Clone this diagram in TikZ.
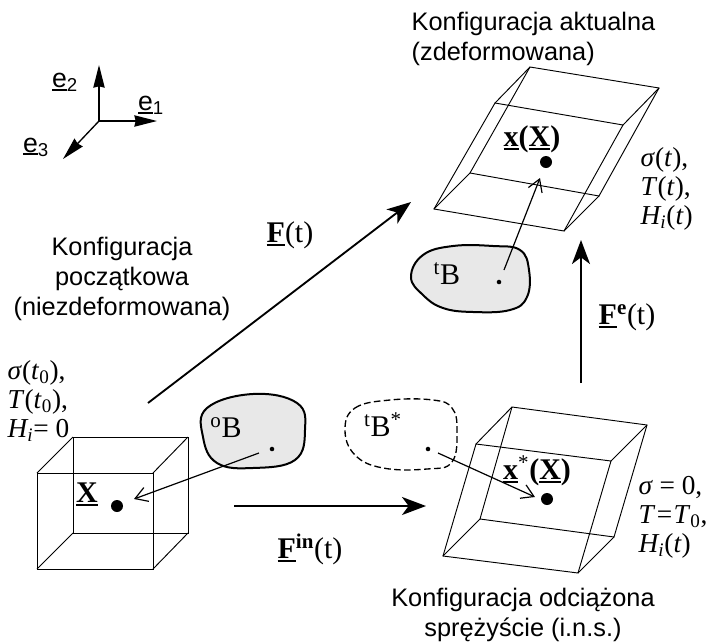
\documentclass[tikz,border=0pt]{standalone}
\usepackage{fontspec}
\setmainfont{Liberation Serif}
\setsansfont{Liberation Sans}
\usetikzlibrary{calc,arrows.meta}
\newcommand{\barred}[1]{\setbox0\hbox{#1}\leavevmode\rlap{\rule[-2.6pt]{\wd0}{1.5pt}}\box0}

\begin{document}
\begin{tikzpicture}[
  x=0.75pt, y=-0.75pt,
  >=Stealth,
  edge/.style={draw, line width=0.7pt},
  blob/.style={draw, line width=1.5pt, fill=gray!18},
  bigarrow/.style={-{Stealth[length=18pt,width=13.5pt,inset=5pt]}, line width=1.4pt},
  axisarrow/.style={-{Stealth[length=17pt,width=8.5pt,inset=1pt]}, line width=1pt},
  maparrow/.style={-{Straight Barb[length=9pt,width=11pt]}, line width=0.9pt},
  bigdot/.style={circle, fill=black, inner sep=0pt, minimum size=9pt},
  smalldot/.style={circle, fill=black, inner sep=0pt, minimum size=3.4pt},
  caption/.style={font=\sffamily\fontsize{19}{22.5}\selectfont, align=center},
  state/.style={font=\fontsize{20.5}{21.7}\selectfont, align=left, anchor=west},
  symb/.style={font=\fontsize{22.5}{24}\selectfont},
  axislabel/.style={font=\sffamily\fontsize{20}{22}\selectfont},
]
\useasboundingbox (0,0) rectangle (708,643);

% --- Prostopadlosciany: a = poczatkowa, b = odciazona, c = aktualna ---
\coordinate (a1) at (37,473);  \coordinate (a2) at (153,473);
\coordinate (a3) at (153,569); \coordinate (a4) at (37,569);
\coordinate (a5) at (73,437);  \coordinate (a6) at (188,437);
\coordinate (a7) at (188,533); \coordinate (a8) at (73,533);

\coordinate (b1) at (476,444); \coordinate (b2) at (611,461);
\coordinate (b3) at (578,573); \coordinate (b4) at (443,556);
\coordinate (b5) at (512,407); \coordinate (b6) at (647,425);
\coordinate (b7) at (614,537); \coordinate (b8) at (480,519);

\coordinate (c1) at (495,103); \coordinate (c2) at (623,125);
\coordinate (c3) at (564,231); \coordinate (c4) at (434,209);
\coordinate (c5) at (530,67);  \coordinate (c6) at (659,88);
\coordinate (c7) at (599,196); \coordinate (c8) at (470,173);

\foreach \c in {a,b,c} {
  \draw[edge] (\c1) -- (\c2) -- (\c3) -- (\c4) -- cycle;
  \draw[edge] (\c5) -- (\c6) -- (\c7) -- (\c8) -- cycle;
  \draw[edge] (\c1) -- (\c5) (\c2) -- (\c6) (\c3) -- (\c7) (\c4) -- (\c8);
}

% --- Obszary ciala ---
\draw[blob] plot[smooth cycle, tension=0.7] coordinates {
  (253,394) (297,403) (305,430) (295,460) (253,468) (217,463) (203,437) (207,408)};
\draw[blob] plot[smooth cycle, tension=0.7] coordinates {
  (411,277) (423,255) (453,246) (493,246) (520,250) (529,270) (527,297)
  (510,310) (473,312) (443,308) (423,295)};
\draw[line width=1pt, dash pattern=on 5pt off 2.5pt] plot[smooth cycle, tension=0.7] coordinates {
  (345,430) (355,408) (390,400) (433,400) (452,408) (457,430) (452,462)
  (427,469) (383,468) (355,455)};

% --- Punkty materialne ---
\node[bigdot] (dotX) at (117,506) {};
\node[bigdot] (dotXs) at (547,499) {};
\node[bigdot] (dotx) at (546,162) {};
\node[smalldot] (ptO) at (272,449) {};
\node[smalldot] (ptTs) at (428,449) {};
\node[smalldot] (ptT) at (499,282) {};

% --- Odwzorowania punktow ---
\coordinate (mapA) at (259,453); \coordinate (tipA) at (134,499);
\coordinate (mapB) at (438,453); \coordinate (tipB) at (535,497);
\coordinate (mapC) at (504,270); \coordinate (tipC) at (540,178);
\draw[maparrow] (mapA) -- (tipA);
\draw[maparrow] (mapB) -- (tipB);
\draw[maparrow] (mapC) -- (tipC);

% --- Gradienty deformacji ---
\coordinate (Fa) at (148,403);  \coordinate (Fb) at (411,202);
\coordinate (Fina) at (234,506); \coordinate (Finb) at (426,506);
\coordinate (Fea) at (581,383); \coordinate (Feb) at (581,240);
\draw[bigarrow] (Fa) -- (Fb);
\draw[bigarrow] (Fina) -- (Finb);
\draw[bigarrow] (Fea) -- (Feb);

\node[symb] (lblF) at (290,235) {\barred{\textbf{F}}(t)};
\node[symb] (lblFin) at (310,549) {\barred{\textbf{F}}\textbf{\textsuperscript{in}}(t)};
\node[symb] (lblFe) at (627,317) {\barred{\textbf{F}}\textbf{\textsuperscript{e}}(t)};

% --- Opisy punktow i obszarow ---
\node[symb] (lblX) at (87,494) {\barred{\textbf{X}}};
\node[symb] (lblXs) at (537,471) {\barred{\textbf{x}}\textsuperscript{*}\textbf{(}\barred{\textbf{X}}\textbf{)}};
\node[symb] (lblx) at (532,139) {\barred{\textbf{x}}\textbf{(}\barred{\textbf{X}}\textbf{)}};
\node[symb] (lblBo) at (226,428) {\textsuperscript{o}B};
\node[symb] (lblBts) at (383,425) {\textsuperscript{t}B\textsuperscript{*}};
\node[symb] (lblBt) at (447,274) {\textsuperscript{t}B};

% --- Stany ---
\node[state] (stA) at (3,401) {\textit{σ}(\textit{t}\textsubscript{0}),\\\textit{T}(\textit{t}\textsubscript{0}),\\\textit{H\textsubscript{i}}= 0};
\node[state] (stB) at (634,517) {\textit{σ}\hspace{5pt}=\hspace{5pt}0,\\\textit{T}\hspace{1pt}=\hspace{1pt}\textit{T}\textsubscript{0},\\\textit{H\textsubscript{i}}(\textit{t})};
\node[state] (stC) at (636,189) {\textit{σ}(\textit{t}),\\\textit{T}(\textit{t}),\\\textit{H\textsubscript{i}}(\textit{t})};

% --- Nazwy konfiguracji ---
\node[caption, anchor=west, align=left] (capC) at (407,39) {Konfiguracja aktualna\\(zdeformowana)};
\node[caption] (capA) at (122,279) {Konfiguracja\\początkowa\\(niezdeformowana)};
\node[caption] (capB) at (523,615) {Konfiguracja odciążona\\sprężyście (i.n.s.)};

% --- Uklad osi ---
\coordinate (orig) at (99,121);
\coordinate (e1) at (157,121); \coordinate (e2) at (99,65); \coordinate (e3) at (63,159);
\draw[axisarrow] (orig) -- (e1);
\draw[axisarrow] (orig) -- (e2);
\draw[axisarrow] (orig) -- (e3);
\node[axislabel] (lble1) at (151,105) {\barred{e}\textsubscript{1}};
\node[axislabel] (lble2) at (65,82) {\barred{e}\textsubscript{2}};
\node[axislabel] (lble3) at (36,147) {\barred{e}\textsubscript{3}};

\end{tikzpicture}
\end{document}
